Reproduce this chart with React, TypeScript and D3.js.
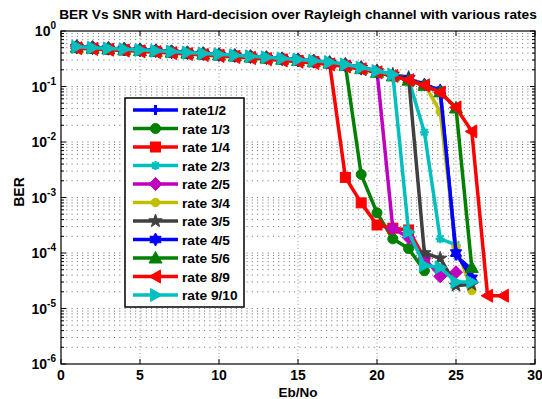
import React from "react";
import * as d3 from "d3";

const W = 542;
const H = 399;

const ebno = [1, 2, 3, 4, 5, 6, 7, 8, 9, 10, 11, 12, 13, 14, 15, 16, 17, 18, 19, 20, 21, 22, 23, 24, 25, 26, 27, 28];

const rate12 = [0.52, 0.5, 0.485, 0.47, 0.455, 0.44, 0.42, 0.405, 0.39, 0.375, 0.36, 0.345, 0.33, 0.315, 0.3, 0.285, 0.268, 0.245, 0.215, 0.185, 0.16, 0.138, 0.11, 0.083, 9e-5, 5e-5];
const rate13 = [0.5, 0.48, 0.47, 0.455, 0.44, 0.425, 0.41, 0.395, 0.38, 0.365, 0.35, 0.335, 0.32, 0.305, 0.29, 0.275, 0.26, 0.24, 2.6e-3, 5.3e-4, 1.8e-4, 1.2e-4, 4.8e-5];
const rate14 = [0.5, 0.485, 0.47, 0.455, 0.445, 0.43, 0.41, 0.395, 0.38, 0.37, 0.355, 0.34, 0.325, 0.31, 0.295, 0.28, 0.26, 2.3e-3, 8e-4, 3.2e-4, 2.8e-4, 2.6e-4, 8e-5];
const rate23 = [0.52, 0.5, 0.485, 0.47, 0.455, 0.44, 0.42, 0.405, 0.39, 0.375, 0.36, 0.345, 0.33, 0.315, 0.3, 0.285, 0.268, 0.245, 0.215, 0.185, 0.16, 0.135, 0.015, 1.8e-4, 1.4e-4];
const rate25 = [0.53, 0.51, 0.49, 0.475, 0.46, 0.445, 0.43, 0.41, 0.395, 0.38, 0.365, 0.35, 0.335, 0.32, 0.305, 0.29, 0.272, 0.25, 0.22, 0.19, 2.8e-4, 1.9e-4, 8e-5, 3.8e-5, 4.5e-5];
const rate34 = [0.52, 0.5, 0.485, 0.47, 0.455, 0.44, 0.42, 0.405, 0.39, 0.375, 0.36, 0.345, 0.33, 0.315, 0.3, 0.285, 0.268, 0.245, 0.215, 0.185, 0.16, 0.138, 0.11, 0.035, 1.3e-4, 2.1e-5];
const rate35 = [0.52, 0.5, 0.485, 0.47, 0.455, 0.44, 0.42, 0.405, 0.39, 0.375, 0.36, 0.345, 0.33, 0.315, 0.3, 0.285, 0.27, 0.25, 0.22, 0.19, 0.165, 0.145, 1.0e-4, 8e-5, 2.6e-5, 2.7e-5];
const rate45 = [0.51, 0.495, 0.48, 0.465, 0.45, 0.435, 0.415, 0.4, 0.385, 0.37, 0.355, 0.34, 0.325, 0.31, 0.295, 0.28, 0.265, 0.24, 0.21, 0.18, 0.155, 0.135, 0.108, 0.085, 1.0e-4, 3.5e-5];
const rate56 = [0.51, 0.49, 0.475, 0.46, 0.445, 0.43, 0.415, 0.4, 0.385, 0.37, 0.355, 0.34, 0.325, 0.31, 0.295, 0.28, 0.265, 0.24, 0.21, 0.18, 0.155, 0.13, 0.105, 0.08, 0.041, 5.5e-5];
const rate89 = [0.49, 0.475, 0.46, 0.445, 0.43, 0.415, 0.4, 0.385, 0.37, 0.355, 0.34, 0.325, 0.31, 0.295, 0.28, 0.265, 0.25, 0.23, 0.205, 0.18, 0.155, 0.13, 0.105, 0.078, 0.042, 0.0155, 1.7e-5, 1.7e-5];
const rate910 = [0.52, 0.5, 0.485, 0.47, 0.455, 0.44, 0.425, 0.41, 0.395, 0.38, 0.365, 0.35, 0.335, 0.32, 0.305, 0.29, 0.275, 0.25, 0.22, 0.19, 0.165, 2.4e-4, 6e-5, 5.5e-5, 3e-5, 3e-5];

const seriesNames = ["rate1/2", "rate 1/3", "rate 1/4", "rate 2/3", "rate 2/5", "rate 3/4", "rate 3/5", "rate 4/5", "rate 5/6", "rate 8/9", "rate 9/10"];
const seriesValues = [rate12, rate13, rate14, rate23, rate25, rate34, rate35, rate45, rate56, rate89, rate910];
const seriesColors = ["#0000FF", "#008000", "#FF0000", "#00BFBF", "#BF00BF", "#BFBF00", "#404040", "#0000FF", "#008000", "#FF0000", "#00BFBF"];
const seriesMarkers = ["plus", "circle", "square", "asterisk", "diamond", "smallcircle", "pentagram", "hexagram", "triup", "trileft", "triright"];

const xTicks = [0, 5, 10, 15, 20, 25, 30];
const yExps = [0, -1, -2, -3, -4, -5, -6];

const title = "BER Vs SNR with Hard-decision over Rayleigh channel with various rates";
const xLabel = "Eb/No";
const yLabel = "BER";

const FONT = "'Liberation Sans', Arial, Helvetica, sans-serif";

function starPath(n: number, ro: number, ri: number, rot = -Math.PI / 2) {
  const pts: [number, number][] = [];
  for (let i = 0; i < 2 * n; i++) {
    const r = i % 2 === 0 ? ro : ri;
    const a = rot + (i * Math.PI) / n;
    pts.push([r * Math.cos(a), r * Math.sin(a)]);
  }
  return "M" + pts.map((p) => p[0].toFixed(2) + "," + p[1].toFixed(2)).join("L") + "Z";
}

function Marker({ type, x, y, color }: { type: string; x: number; y: number; color: string }) {
  const t = `translate(${x},${y})`;
  switch (type) {
    case "plus":
      return <path transform={t} d="M-5,0L5,0M0,-5L0,5" stroke={color} strokeWidth={3} fill="none" />;
    case "circle":
      return <circle cx={x} cy={y} r={5} fill={color} stroke={color} strokeWidth={1} />;
    case "smallcircle":
      return <circle cx={x} cy={y} r={4.2} fill={color} stroke={color} strokeWidth={1} />;
    case "square":
      return <rect x={x - 5} y={y - 5} width={10} height={10} fill={color} stroke={color} strokeWidth={1} />;
    case "asterisk":
      return <path transform={t} d="M-4.5,0L4.5,0M0,-4.5L0,4.5M-3.3,-3.3L3.3,3.3M-3.3,3.3L3.3,-3.3" stroke={color} strokeWidth={2.2} fill="none" />;
    case "diamond":
      return <path transform={t} d="M0,-6.5L6.5,0L0,6.5L-6.5,0Z" fill={color} stroke={color} strokeWidth={1} />;
    case "pentagram":
      return <path transform={t} d={starPath(5, 7, 2.8)} fill={color} stroke={color} strokeWidth={1} />;
    case "hexagram":
      return <path transform={t} d={starPath(6, 6.5, 3.75)} fill={color} stroke={color} strokeWidth={1} />;
    case "triup":
      return <path transform={t} d="M0,-6.5L6.5,5L-6.5,5Z" fill={color} stroke={color} strokeWidth={1} />;
    case "trileft":
      return <path transform={t} d="M-6.5,0L5,-6.5L5,6.5Z" fill={color} stroke={color} strokeWidth={1} />;
    case "triright":
      return <path transform={t} d="M6.5,0L-5,-6.5L-5,6.5Z" fill={color} stroke={color} strokeWidth={1} />;
    default:
      return null;
  }
}

export default function App() {
  const left = 61, right = 535, top = 31, bottom = 364;
  const x = d3.scaleLinear().domain([0, 30]).range([left, right]);
  const y = d3.scaleLog().domain([1e-6, 1]).range([bottom, top]);
  const line = d3
    .line<[number, number]>()
    .x((d) => x(d[0]))
    .y((d) => y(d[1]));

  const minorY: number[] = [];
  for (let e = -6; e < 0; e++) {
    for (let k = 2; k <= 9; k++) minorY.push(k * Math.pow(10, e));
  }
  const majorY = yExps.map((e) => Math.pow(10, e));

  const legX = 125, legY = 98, legW = 119, legH = 209;
  const legRow0 = 110, legStep = 18.5;

  return (
    <svg width={W} height={H} style={{ position: "absolute", left: 0, top: 0, background: "#fff" }} fontFamily={FONT}>
      <rect x={0} y={0} width={W} height={H} fill="#fff" />
      {/* grid */}
      <g stroke="#444" strokeWidth={0.8} fill="none">
        {minorY.map((v, i) => (
          <line key={"my" + i} x1={left} x2={right} y1={y(v)} y2={y(v)} strokeDasharray="1,4.3" />
        ))}
        {majorY.slice(1, 6).map((v, i) => (
          <line key={"My" + i} x1={left} x2={right} y1={y(v)} y2={y(v)} strokeDasharray="1,4.3" />
        ))}
        {xTicks.slice(1, 6).map((v, i) => (
          <line key={"gx" + i} x1={x(v)} x2={x(v)} y1={top} y2={bottom} strokeDasharray="1,2.5" stroke="#777" />
        ))}
      </g>
      {/* series */}
      {seriesValues.map((vals, si) => {
        const pts: [number, number][] = vals.map((v, i) => [ebno[i], v]);
        return (
          <g key={"s" + si}>
            <path d={line(pts) || ""} fill="none" stroke={seriesColors[si]} strokeWidth={3.5} strokeLinejoin="round" />
            {pts.map((p, i) => (
              <Marker key={i} type={seriesMarkers[si]} x={x(p[0])} y={y(p[1])} color={seriesColors[si]} />
            ))}
          </g>
        );
      })}
      {/* axes box */}
      <rect x={left} y={top} width={right - left} height={bottom - top} fill="none" stroke="#000" strokeWidth={1.2} />
      <g stroke="#000" strokeWidth={1}>
        {xTicks.map((v, i) => (
          <g key={"xt" + i}>
            <line x1={x(v)} x2={x(v)} y1={bottom} y2={bottom - 5} />
            <line x1={x(v)} x2={x(v)} y1={top} y2={top + 5} />
          </g>
        ))}
        {majorY.map((v, i) => (
          <g key={"yt" + i}>
            <line x1={left} x2={left + 5} y1={y(v)} y2={y(v)} />
            <line x1={right} x2={right - 5} y1={y(v)} y2={y(v)} />
          </g>
        ))}
        {minorY.map((v, i) => (
          <g key={"ymt" + i}>
            <line x1={left} x2={left + 3} y1={y(v)} y2={y(v)} />
            <line x1={right} x2={right - 3} y1={y(v)} y2={y(v)} />
          </g>
        ))}
      </g>
      {/* tick labels */}
      <g fontWeight="bold" fontSize={14} fill="#000">
        {xTicks.map((v, i) => (
          <text key={"xl" + i} x={x(v)} y={380} textAnchor="middle">
            {v}
          </text>
        ))}
        {yExps.map((e, i) => (
          <text key={"yl" + i} x={56} y={y(Math.pow(10, e)) + 5} textAnchor="end">
            <tspan>10</tspan>
            <tspan dy={-7} fontSize={10}>
              {e}
            </tspan>
          </text>
        ))}
      </g>
      {/* labels */}
      <text x={(left + right) / 2} y={19} textAnchor="middle" fontWeight="bold" fontSize={13.7}>
        {title}
      </text>
      <text x={(left + right) / 2} y={396.5} textAnchor="middle" fontWeight="bold" fontSize={13.5}>
        {xLabel}
      </text>
      <text transform={`translate(24,192) rotate(-90)`} textAnchor="middle" fontWeight="bold" fontSize={14}>
        {yLabel}
      </text>
      {/* legend */}
      <rect x={legX} y={legY} width={legW} height={legH} fill="#fff" stroke="#000" strokeWidth={1.5} />
      {seriesNames.map((n, i) => {
        const ly = legRow0 + i * legStep;
        return (
          <g key={"lg" + i}>
            <line x1={133} x2={178} y1={ly} y2={ly} stroke={seriesColors[i]} strokeWidth={3.5} />
            <Marker type={seriesMarkers[i]} x={155.5} y={ly} color={seriesColors[i]} />
            <text x={182} y={ly + 5} fontWeight="bold" fontSize={13.7}>
              {n}
            </text>
          </g>
        );
      })}
    </svg>
  );
}
